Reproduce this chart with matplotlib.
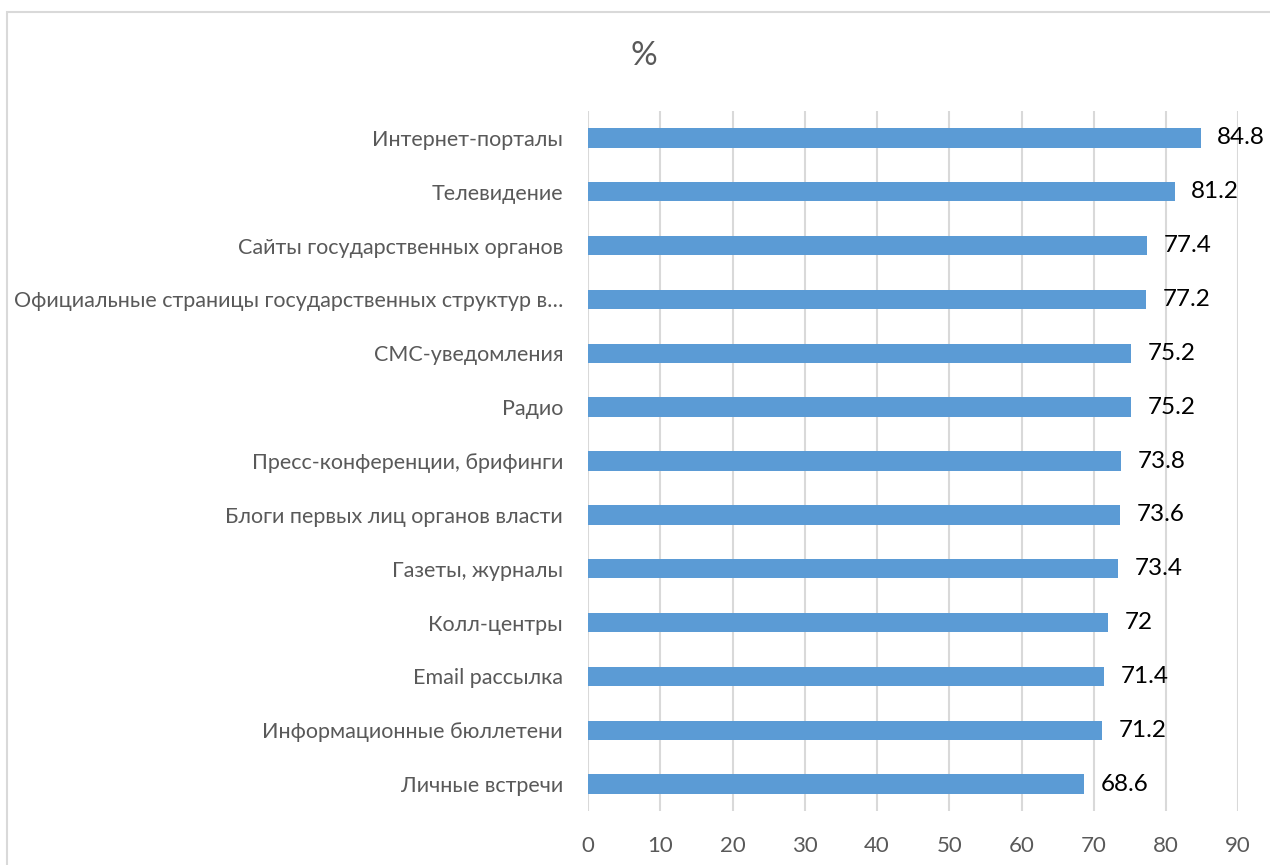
import matplotlib.pyplot as plt
from matplotlib.patches import Rectangle

plt.rcParams['font.family'] = ['Lato', 'DejaVu Sans']

# Channels and shares (%), top to bottom
channels = [
    'Интернет-порталы',
    'Телевидение',
    'Сайты государственных органов',
    'Официальные страницы государственных структур в…',
    'СМС-уведомления',
    'Радио',
    'Пресс-конференции, брифинги',
    'Блоги первых лиц органов власти',
    'Газеты, журналы',
    'Колл-центры',
    'Email рассылка',
    'Информационные бюллетени',
    'Личные встречи',
]
shares = [84.8, 81.2, 77.4, 77.2, 75.2, 75.2, 73.8, 73.6, 73.4, 72, 71.4, 71.2, 68.6]
x_ticks = [0, 10, 20, 30, 40, 50, 60, 70, 80, 90]

fig = plt.figure(figsize=(12.7, 8.65), dpi=100)
ax = fig.add_axes([0.463, 0.0624, 0.512, 0.8093])

y = list(range(len(channels)))[::-1]
ax.barh(y, shares, height=0.36, color='#5B9BD5', zorder=3)

for yi, v in zip(y, shares):
    ax.annotate(f'{v:g}', (v, yi), xytext=(12, 0), textcoords='offset points',
                va='center', ha='left', fontsize=17.5, color='black')

ax.set_xlim(0, 90)
ax.set_ylim(-0.5, len(channels) - 0.5)
ax.set_xticks(x_ticks)
ax.set_yticks(y)
ax.set_yticklabels(channels)
ax.grid(axis='x', color='#D9D9D9', linewidth=1.5, zorder=0)
ax.tick_params(axis='x', length=0, pad=18, labelsize=16, labelcolor='#595959')
ax.tick_params(axis='y', length=0, pad=18, labelsize=15.5, labelcolor='#595959')
for s in ax.spines.values():
    s.set_visible(False)

fig.text(644 / 1270, 1 - 56 / 865, '%', ha='center', va='center',
         fontsize=24, color='#595959')

# light chart-area frame
fig.patches.append(Rectangle((7 / 1270, -0.1), 1.2, 1.1 - 12 / 865,
                             transform=fig.transFigure, fill=False,
                             edgecolor='#D9D9D9', linewidth=1.5))

fig.savefig('out.png', dpi=100)
